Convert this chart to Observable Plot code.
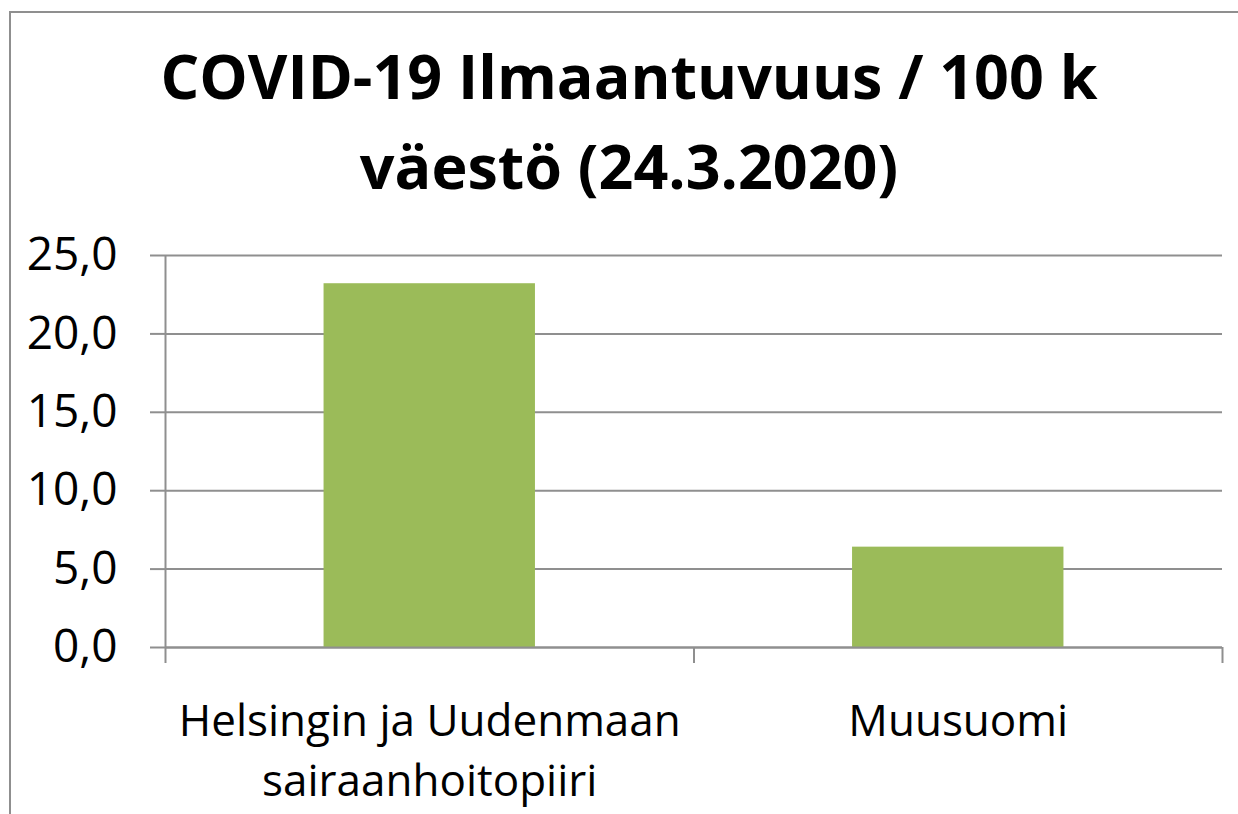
<!DOCTYPE html>
<html>
<head>
<meta charset="utf-8">
<script src="https://cdn.jsdelivr.net/npm/d3@7"></script>
<script src="https://cdn.jsdelivr.net/npm/@observablehq/plot@0.6"></script>
<style>
  html, body { margin: 0; padding: 0; background: #fff; }
  #wrap { position: relative; width: 1238px; height: 814px; overflow: hidden; font-family: "Open Sans", sans-serif; }
  #frame { position: absolute; left: 9px; top: 11px; width: 1400px; height: 1000px; border-left: 2px solid #8f8f8f; border-top: 2px solid #8f8f8f; box-sizing: border-box; }
  #title { position: absolute; left: 0; top: 31px; width: 1258px; text-align: center; font-weight: 700; font-size: 61px; line-height: 90px; color: #000; z-index: 1; }
  #chart { position: absolute; left: 0; top: 200px; }
</style>
</head>
<body>
<div id="wrap">
  <div id="frame"></div>
  <div id="chart"></div>
  <div id="title">COVID-19 Ilmaantuvuus / 100 k<br>väestö (24.3.2020)</div>
</div>
<script>
const categories = ["Helsingin ja Uudenmaan\nsairaanhoitopiiri", "Muusuomi"];
const values = [23.2, 6.4];
const yTicks = [0, 5, 10, 15, 20, 25];

const data = categories.map((name, i) => ({i, name, value: values[i]}));
const grey = "#8f8f8f";
const fmt = d => d3.format(".1f")(d).replace(".", ",");

const chart = Plot.plot({
  width: 1238,
  height: 614,
  marginLeft: 165,
  marginRight: 16,
  marginTop: 55,
  marginBottom: 167,
  style: {fontFamily: "'Open Sans', sans-serif", background: "transparent"},
  x: {domain: [0, categories.length], axis: null},
  y: {domain: [0, 25], axis: null},
  marks: [
    Plot.gridY(yTicks, {stroke: grey, strokeOpacity: 1, strokeWidth: 2}),
    Plot.rectY(data, {x1: d => d.i + 0.3, x2: d => d.i + 0.7, y: "value", fill: "#9bbb59"}),
    Plot.axisY(yTicks, {label: null, tickSize: 15, tickPadding: 33, tickFormat: fmt, fontSize: 46, stroke: grey, strokeWidth: 2, fill: "#000"}),
    Plot.axisX(d3.range(categories.length + 1), {label: null, tickSize: 16, tickFormat: () => "", stroke: grey, strokeWidth: 2}),
    Plot.ruleX([0], {stroke: grey, strokeWidth: 2}),
    Plot.ruleY([0], {stroke: grey, strokeWidth: 2}),
    Plot.text(data, {x: d => d.i + 0.5, frameAnchor: "bottom", dy: 46, lineAnchor: "top", lineHeight: 1.36, text: "name", fontSize: 44, fill: "#000"})
  ]
});
document.getElementById("chart").appendChild(chart);
</script>
</body>
</html>
